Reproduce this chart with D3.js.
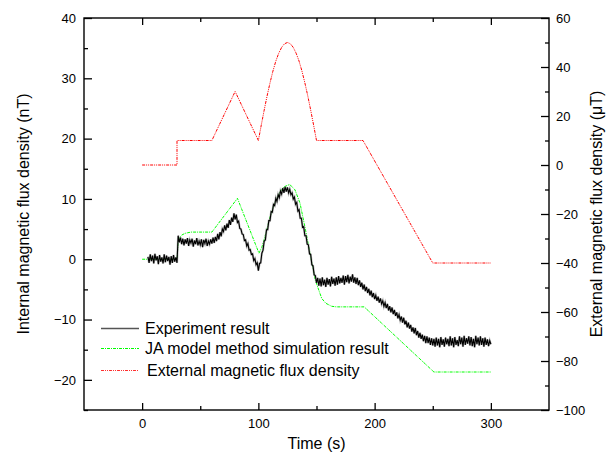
<!DOCTYPE html>
<html>
<head>
<meta charset="utf-8">
<script src="https://cdn.jsdelivr.net/npm/d3@7"></script>
<style>
  body { margin: 0; background: #fff; }
  svg text { font-family: "Liberation Sans", Arial, sans-serif; fill: #000; }
</style>
</head>
<body>
<div id="chart"></div>
<script>
// experiment result (nT), one sample per second starting at t = 5 s
const expStart = 5;
const expValues = [
  0.4, -0.6, 0.8, -0.3, 0.6, -0.7, 0.9, -0.2, 0.5, -0.8,
  0.7, -0.4, 0.3, -0.7, 0.8, -0.5, 0.6, -0.3, 0.4, -0.9,
  0.5, -0.6, 0.7, -0.4, 0.3, -0.6, 3.9, 2.8, 3.6, 2.5,
  3.4, 2.3, 3.3, 2.6, 3.5, 2.2, 3.2, 2.7, 3.4, 2.1,
  3.1, 2.5, 3.5, 2.3, 3.0, 2.4, 3.3, 2.0, 3.2, 2.6,
  3.4, 2.2, 3.0, 2.5, 3.3, 2.6, 3.6, 2.7, 3.7, 3.0,
  4.2, 3.3, 4.5, 3.8, 5.0, 4.6, 5.6, 4.8, 5.9, 5.2,
  6.5, 5.7, 6.9, 6.2, 7.6, 6.6, 7.4, 6.1, 6.3, 5.1,
  5.0, 4.2, 4.1, 3.1, 3.2, 2.2, 2.6, 1.5, 1.6, 0.8,
  0.9, -0.2, 0.1, -0.9, -0.6, -1.9, -0.7, -0.6, 1.0, 1.5,
  3.0, 3.2, 4.9, 4.9, 6.4, 6.4, 7.9, 7.8, 9.1, 8.9,
  10.1, 9.6, 10.7, 10.2, 11.3, 10.8, 11.8, 11.0, 12.0, 11.2,
  11.9, 11.0, 11.6, 10.7, 11.0, 10.0, 10.3, 9.1, 9.4, 8.0,
  8.2, 6.8, 6.8, 5.3, 5.4, 3.9, 3.9, 2.5, 2.4, 0.9,
  0.8, -0.9, -1.1, -2.6, -2.7, -3.9, -3.1, -4.4, -3.2, -4.5,
  -3.0, -4.3, -3.4, -4.6, -3.1, -4.2, -3.3, -4.5, -2.9, -4.1,
  -3.2, -4.4, -3.0, -4.2, -2.8, -4.0, -3.1, -3.9, -2.7, -4.2,
  -2.8, -3.8, -2.6, -4.0, -2.9, -3.7, -2.5, -3.9, -3.0, -4.1,
  -3.1, -4.3, -3.5, -4.6, -3.9, -5.0, -4.2, -5.3, -4.6, -5.6,
  -4.9, -6.0, -5.2, -6.3, -5.6, -6.6, -6.0, -6.9, -6.2, -7.2,
  -6.5, -7.4, -6.9, -7.8, -7.2, -8.1, -7.4, -8.5, -7.8, -8.8,
  -8.0, -9.1, -8.4, -9.4, -8.8, -9.8, -9.2, -10.1, -9.5, -10.5,
  -9.7, -10.8, -10.2, -11.3, -10.5, -11.5, -10.9, -12.0, -11.3, -12.3,
  -11.4, -12.6, -11.9, -13.0, -12.2, -13.2, -12.5, -13.6, -12.7, -13.9,
  -12.8, -13.9, -13.0, -14.2, -13.1, -14.3, -13.2, -14.5, -13.0, -14.3,
  -13.2, -14.6, -12.9, -14.2, -13.3, -14.5, -13.0, -14.1, -13.2, -14.4,
  -12.8, -14.3, -13.1, -14.6, -12.9, -14.2, -13.4, -14.4, -12.8, -14.1,
  -13.0, -14.5, -12.7, -14.2, -13.1, -14.0, -12.8, -14.3, -12.9, -14.4,
  -13.2, -14.6, -12.7, -14.1, -13.0, -14.3, -12.8, -14.2, -13.1, -14.5,
  -13.0, -14.2, -13.3, -14.4, -13.5, -14.1
];

// JA model simulation (nT)
const simTime = [0, 30, 31, 32, 34, 37, 42, 60, 82, 100.5, 103, 106, 110, 114, 118, 122, 127,
  131.5, 135.8, 140, 144.4, 149, 154.5, 158, 163, 167, 191, 251, 300];
const simValues = [0, 0, 2.8, 3.5, 4.0, 4.3, 4.5, 4.5, 10.1, 1.0, 2.0, 4.0, 7.0, 9.3, 11.0, 12.0, 12.4,
  11.5, 9.3, 5.4, 1.0, -3.5, -6.5, -7.3, -7.8, -7.9, -7.9, -18.7, -18.7];

// external magnetic flux density (uT, right axis)
const extTime = [0, 30, 30, 60, 80, 100, 102.5, 105, 107.5, 110, 112.5, 115, 117.5, 120, 122.5, 125,
  127.5, 130, 132.5, 135, 137.5, 140, 142.5, 145, 147.5, 150, 190, 250, 300];
const extValues = [0, 0, 10, 10, 30, 10, 16.3, 22.4, 28.2, 33.5, 38.3, 42.4, 45.6, 48.0, 49.5, 50,
  49.5, 48.0, 45.6, 42.4, 38.3, 33.5, 28.2, 22.4, 16.3, 10, 10, -40, -40];

const xMajor = [0, 100, 200, 300];
const xMinor = [50, 150, 250];
const yLeftMajor = [40, 30, 20, 10, 0, -10, -20];
const yLeftMinor = [35, 25, 15, 5, -5, -15, -25];
const yRightMajor = [60, 40, 20, 0, -20, -40, -60, -80, -100];
const yRightMinor = [50, 30, 10, -10, -30, -50, -70, -90];

const legendLabels = ['Experiment result', 'JA model method simulation result', 'External magnetic flux density'];

const W = 610, H = 460;
const margin = { top: 18, right: 61, bottom: 50, left: 84 };
const width = W - margin.left - margin.right;
const height = H - margin.top - margin.bottom;

const svg = d3.select('#chart').append('svg')
  .attr('width', W)
  .attr('height', H);

const g = svg.append('g')
  .attr('transform', `translate(${margin.left},${margin.top})`);

const x = d3.scaleLinear().domain([-50, 350]).range([0, width]);
const yL = d3.scaleLinear().domain([-25, 40]).range([height, 0]);
const yR = d3.scaleLinear().domain([-100, 60]).range([height, 0]);

const styleAxis = sel => {
  sel.select('.domain').remove();
  sel.selectAll('line').attr('stroke', '#000').attr('stroke-width', 1.3);
  sel.selectAll('text').style('font-size', '13px').attr('fill', '#000');
};

// bottom
g.append('g').attr('transform', `translate(0,${height})`)
  .call(d3.axisBottom(x).tickValues(xMajor).tickSizeInner(-7).tickSizeOuter(0).tickPadding(9))
  .call(styleAxis);
g.append('g').attr('transform', `translate(0,${height})`)
  .call(d3.axisBottom(x).tickValues(xMinor).tickSizeInner(-4).tickSizeOuter(0).tickFormat(''))
  .call(styleAxis);
// top
g.append('g')
  .call(d3.axisTop(x).tickValues(xMajor).tickSizeInner(-7).tickSizeOuter(0).tickFormat(''))
  .call(styleAxis);
g.append('g')
  .call(d3.axisTop(x).tickValues(xMinor).tickSizeInner(-4).tickSizeOuter(0).tickFormat(''))
  .call(styleAxis);
// left
g.append('g')
  .call(d3.axisLeft(yL).tickValues(yLeftMajor).tickSizeInner(-8).tickSizeOuter(0).tickPadding(8))
  .call(styleAxis);
g.append('g')
  .call(d3.axisLeft(yL).tickValues(yLeftMinor).tickSizeInner(-4).tickSizeOuter(0).tickFormat(''))
  .call(styleAxis);
// right
g.append('g').attr('transform', `translate(${width},0)`)
  .call(d3.axisRight(yR).tickValues(yRightMajor).tickSizeInner(-8).tickSizeOuter(0).tickPadding(7))
  .call(styleAxis);
g.append('g').attr('transform', `translate(${width},0)`)
  .call(d3.axisRight(yR).tickValues(yRightMinor).tickSizeInner(-4).tickSizeOuter(0).tickFormat(''))
  .call(styleAxis);

// frame
g.append('rect')
  .attr('width', width)
  .attr('height', height)
  .attr('fill', 'none')
  .attr('stroke', '#000')
  .attr('stroke-width', 1.4);

// curves
const simLine = d3.line().x((d, i) => x(simTime[i])).y(d => yL(d));
g.append('path')
  .datum(simValues)
  .attr('fill', 'none')
  .attr('stroke', '#00ff00')
  .attr('stroke-width', 1)
  .attr('stroke-dasharray', '3,1,1,1')
  .attr('d', simLine);

const expLine = d3.line().x((d, i) => x(expStart + i)).y(d => yL(d));
// soft grey halo under the noisy trace
g.append('path')
  .datum(expValues)
  .attr('fill', 'none')
  .attr('stroke', '#888')
  .attr('stroke-width', 2.2)
  .attr('stroke-opacity', 0.6)
  .attr('d', expLine);
g.append('path')
  .datum(expValues)
  .attr('fill', 'none')
  .attr('stroke', '#000')
  .attr('stroke-width', 1.1)
  .attr('d', expLine);

const extLine = d3.line().x((d, i) => x(extTime[i])).y(d => yR(d));
g.append('path')
  .datum(extValues)
  .attr('fill', 'none')
  .attr('stroke', '#ff0000')
  .attr('stroke-width', 1)
  .attr('stroke-dasharray', '3,1,1,1,1,1')
  .attr('d', extLine);

// legend
const legendColors = ['#555555', '#00ff00', '#ff3030'];
const legendDashes = [null, '3,1,1,1', '3,1,1,1,1,1'];
const legendRows = [328.5, 348.5, 370.5];
const legend = svg.append('g');
legendLabels.forEach((label, i) => {
  const yPos = legendRows[i];
  legend.append('path')
    .attr('d', `M101,${yPos}H139`)
    .attr('fill', 'none')
    .attr('stroke', legendColors[i])
    .attr('stroke-width', i === 0 ? 1.5 : 1)
    .attr('stroke-dasharray', legendDashes[i]);
  legend.append('text')
    .attr('x', i === 2 ? 147 : 145)
    .attr('y', yPos + 5.5)
    .style('font-size', '16px')
    .text(label);
});

// axis titles
svg.append('text')
  .attr('x', margin.left + width / 2)
  .attr('y', 449)
  .attr('text-anchor', 'middle')
  .style('font-size', '16px')
  .text('Time (s)');

svg.append('text')
  .attr('transform', `translate(29,${margin.top + height / 2})rotate(-90)`)
  .attr('text-anchor', 'middle')
  .style('font-size', '16px')
  .text('Internal magnetic flux density (nT)');

svg.append('text')
  .attr('transform', `translate(602,${margin.top + height / 2})rotate(-90)`)
  .attr('text-anchor', 'middle')
  .style('font-size', '16px')
  .text('External magnetic flux density (\u03BCT)');
</script>
</body>
</html>
